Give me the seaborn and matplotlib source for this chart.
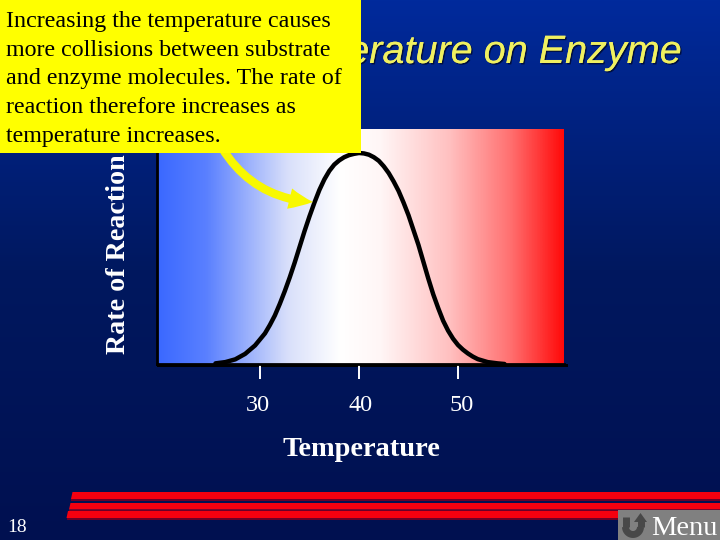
import numpy as np
import matplotlib.pyplot as plt
import matplotlib.patheffects as pe
from matplotlib.colors import LinearSegmentedColormap
from matplotlib.patches import FancyArrowPatch, Polygon, Rectangle
from matplotlib.transforms import ScaledTranslation
import pandas as pd
import seaborn as sns

# curve
temperature = [25.5, 26.5, 27.5, 28.5, 29.5, 30.5, 31.0, 31.5, 32.0, 32.5, 33.0, 33.5,
               34.0, 34.5, 35.0, 35.5, 36.0, 36.5, 37.0, 37.5, 38.0, 38.5, 39.0, 39.5,
               40.0, 40.5, 41.0, 41.5, 42.0, 42.5, 43.0, 43.5, 44.0, 44.5, 45.0, 45.5,
               46.0, 46.5, 47.0, 47.5, 48.0, 48.5, 49.0, 49.5, 50.0, 50.5, 51.0, 51.5,
               52.0, 53.0, 54.0, 54.7]
rate = [0.3, 0.9, 2.2, 4.8, 8.8, 14.5, 18.5, 23.0, 28.5, 34.5, 41.0, 48.0,
        55.5, 63.0, 70.0, 76.5, 82.5, 87.5, 91.5, 94.5, 96.5, 98.0, 99.0, 99.6,
        100.0, 99.8, 99.2, 98.0, 96.3, 93.7, 90.5, 86.5, 82.0, 76.5, 70.5, 63.5,
        56.5, 48.5, 40.5, 33.0, 26.5, 20.5, 15.8, 12.0, 9.0, 6.8, 5.0, 3.5,
        2.3, 0.9, 0.3, 0.0]
tick_values = [30, 40, 50]
tick_labels = ['30', '40', '50']
title = 'Effect of Temperature on Enzyme'
note = ('Increasing the temperature causes\n'
        'more collisions between substrate\n'
        'and enzyme molecules. The rate of\n'
        'reaction therefore increases as\n'
        'temperature increases.')

SERIF = 'Liberation Serif'
SANS = 'Liberation Sans'
W, H = 720, 540

sns.set_theme(style='white')
fig = plt.figure(figsize=(7.2, 5.4), dpi=100)

# slide background
bg = fig.add_axes([0, 0, 1, 1], zorder=0)
bg_cmap = LinearSegmentedColormap.from_list('slide', ['#002a9c', '#00185f', '#001050'])
bg.imshow(np.linspace(0, 1, 256).reshape(-1, 1), cmap=bg_cmap, aspect='auto',
          extent=[0, W, H, 0])
bg.set_xlim(0, W)
bg.set_ylim(H, 0)
bg.axis('off')

# title sits behind the yellow note
bg.text(682, 63, title, color='#f0f060', family=SANS, style='italic', fontsize=28.5,
        ha='right', va='baseline',
        path_effects=[pe.withSimplePatchShadow(offset=(1, -1), shadow_rgbFace='#000f40',
                                               alpha=1),
                      pe.Normal()])

# red stripes
for x0, y0, y1, in [(71, 492, 499), (69, 503, 509.5), (66.5, 511, 518)]:
    bg.add_patch(Polygon([(x0, y1), (x0 + 1.5, y0), (W, y0), (W, y1)],
                         color='#f5000f', lw=0))
    bg.add_patch(Rectangle((x0, y1), W - x0, 1.5, color='#6a0028', lw=0))

bg.text(7, 532, '18', color='white', family=SERIF, fontsize=14, va='baseline')

# menu button
icon = '#484848'
bg.add_patch(Rectangle((618, 510), 102, 30, color='#808080', lw=0))
t = np.linspace(np.pi, 0, 30)
bg.plot(633 + 7.5 * np.cos(t), 527 + 7.5 * np.sin(t), color=icon, lw=5, solid_capstyle='butt')
bg.plot([625.5, 625.5], [517, 527], color=icon, lw=5, solid_capstyle='butt')
bg.plot([640.5, 640.5], [521, 527], color=icon, lw=5, solid_capstyle='butt')
bg.add_patch(Polygon([(634, 522), (647, 522), (640.5, 513)], color=icon, lw=0))
bg.text(651, 535, 'Menu', color='white', family=SERIF, fontsize=20.5, va='baseline')

# chart, placed on the slide in pixels
left, right, top, bottom = 157, 564, 129, 364
bg.add_patch(Rectangle((left, bottom), 411, 2.5, color='black', lw=0))
ax = fig.add_axes([left / W, 1 - bottom / H, (right - left) / W, (bottom - top) / H],
                  zorder=1)
xlim = (40 - (359 - left) / 9.9, 40 + (right - 359) / 9.9)
ylim = (0, (bottom - top) / 2.11)
chart_cmap = LinearSegmentedColormap.from_list(
    'temp', [(0, '#3a68ff'), (0.12, '#5a80ff'), (0.32, '#d8dffa'), (0.45, '#ffffff'),
             (0.55, '#fff6f6'), (0.72, '#ffc0c0'), (0.87, '#ff7070'), (1, '#ff0a0a')])
ax.imshow(np.linspace(0, 1, 512).reshape(1, -1), cmap=chart_cmap, aspect='auto',
          extent=[xlim[0], xlim[1], ylim[0], ylim[1]])

df = pd.DataFrame({'temperature': temperature, 'rate': rate})
sns.lineplot(data=df, x='temperature', y='rate', color='black', linewidth=3.2,
             sort=False, ax=ax, solid_joinstyle='round', clip_on=False)
ax.set_xlim(xlim)
ax.set_ylim(ylim)

ax.set_xticks(tick_values)
ax.set_xticklabels(tick_labels, family=SERIF, fontsize=17.5, color='white')
ax.set_yticks([])
ax.tick_params(axis='x', bottom=True, length=10.5, width=1.4, color='white', pad=11.5,
               direction='out')
for label, dx in zip(ax.get_xticklabels(), [-2, 2, 4]):
    label.set_transform(label.get_transform() +
                        ScaledTranslation(dx / 100, 0, fig.dpi_scale_trans))

ax.set_xlabel('Temperature', family=SERIF, fontsize=20.4, fontweight='bold', color='white')
ax.set_ylabel('Rate of Reaction', family=SERIF, fontsize=20.2, fontweight='bold',
              color='white')
ax.yaxis.set_label_coords(-0.064, 0.466)
ax.xaxis.set_label_coords(0.502, -0.31)

for side in ['top', 'right']:
    ax.spines[side].set_visible(False)
for side in ['left', 'bottom']:
    ax.spines[side].set_color('black')
    ax.spines[side].set_linewidth(2)

# overlay: callout arrow and note
top_ax = fig.add_axes([0, 0, 1, 1], zorder=2)
top_ax.set_xlim(0, W)
top_ax.set_ylim(H, 0)
top_ax.axis('off')
top_ax.patch.set_alpha(0)

top_ax.add_patch(FancyArrowPatch((222, 148), (313, 202), connectionstyle='arc3,rad=0.26',
                                 arrowstyle='simple,head_width=15,head_length=17,tail_width=6',
                                 color='#f8f800', lw=0, mutation_scale=1, shrinkA=0, shrinkB=0))
top_ax.add_patch(Rectangle((0, 0), 361, 153, color='#ffff00', lw=0))
top_ax.text(6, 11, note, color='black', family=SERIF, fontsize=17.3, va='top', ha='left',
            linespacing=1.48)

fig.savefig('out.png', dpi=100)
